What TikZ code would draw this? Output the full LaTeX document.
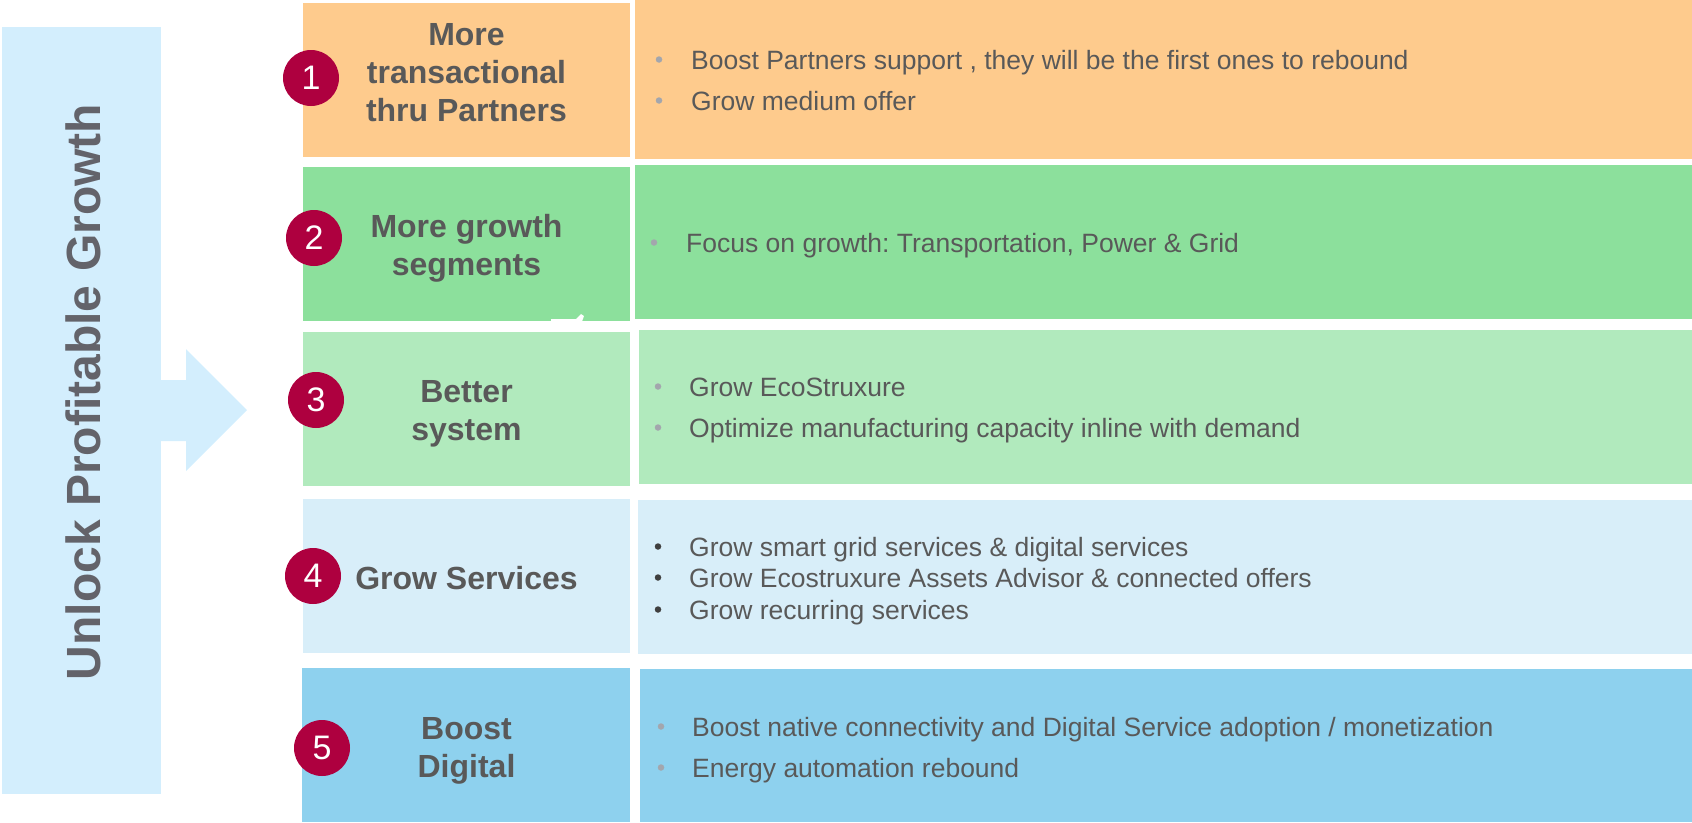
\documentclass[tikz,border=0pt]{standalone}
\usepackage{fontspec}
\setmainfont{Liberation Sans}
\frenchspacing
\definecolor{cBar}{HTML}{D3EEFD}
\definecolor{cOrange}{HTML}{FECB8D}
\definecolor{cGreen}{HTML}{8CE09C}
\definecolor{cLightGreen}{HTML}{B1EABD}
\definecolor{cPaleBlue}{HTML}{D8EEF9}
\definecolor{cBlue}{HTML}{8ED1EE}
\definecolor{cBadge}{HTML}{AE003F}
\definecolor{cText}{HTML}{595959}
\definecolor{cTitle}{HTML}{63636A}
\definecolor{cDot}{HTML}{A3A6AD}
\definecolor{cDotDark}{HTML}{3F3F3F}
\begin{document}
\begin{tikzpicture}[x=1pt,y=-1pt,
  panel/.style={rectangle,inner sep=0pt,outer sep=0pt,draw=none,anchor=north west},
  heading/.style={align=center,inner sep=0pt,text=cText,
    font=\fontsize{32}{38}\selectfont\bfseries},
  badge/.style={circle,fill=cBadge,minimum size=56pt,inner sep=0pt,text=white,
    font=\fontsize{34}{34}\selectfont},
  item/.style={anchor=base west,inner sep=0pt,text=cText,
    font=\fontsize{26.5}{30}\selectfont},
  dot/.style={circle,fill=cDot,minimum size=6.5pt,inner sep=0pt},
  darkdot/.style={dot,fill=cDotDark}]
\useasboundingbox (0,0) rectangle (1692,822);

% side banner and its arrow
\node[panel,fill=cBar,minimum width=159pt,minimum height=767pt] (bar) at (2,27) {};
\fill[cBar] (161,380) -- (186,380) -- (186,349) -- (247,410) -- (186,471)
  -- (186,441) -- (161,441) -- cycle;
\node[rotate=90,inner sep=0pt,text=cTitle,font=\fontsize{48}{50}\selectfont\bfseries]
  (banner) at (83,392) {Unlock Profitable Growth};

% left column: headings
\node[panel,fill=cOrange,minimum width=327pt,minimum height=154pt] (L1) at (303,3) {};
\node[panel,fill=cGreen,minimum width=327pt,minimum height=154pt] (L2) at (303,167) {};
\node[panel,fill=cLightGreen,minimum width=327pt,minimum height=154pt] (L3) at (303,332) {};
\node[panel,fill=cPaleBlue,minimum width=327pt,minimum height=154pt] (L4) at (303,499) {};
\node[panel,fill=cBlue,minimum width=328pt,minimum height=154pt] (L5) at (302,668) {};

% right column: actions
\node[panel,fill=cOrange,minimum width=1057pt,minimum height=159pt] (R1) at (635,0) {};
\node[panel,fill=cGreen,minimum width=1057pt,minimum height=154pt] (R2) at (635,165) {};
\node[panel,fill=cLightGreen,minimum width=1053pt,minimum height=154pt] (R3) at (639,330) {};
\node[panel,fill=cPaleBlue,minimum width=1054pt,minimum height=154pt] (R4) at (638,500) {};
\node[panel,fill=cBlue,minimum width=1052pt,minimum height=153pt] (R5) at (640,669) {};

% small white mark on the lower edge of the second heading
\fill[white] (551,319) -- (576,319) -- (581,314) -- (584,316) -- (582,321.5) -- (551,321.5) -- cycle;

% heading texts
\node[heading] (h1) at (466.5,72.5) {More\\transactional\\thru Partners};
\node[heading] (h2) at (466.5,248.5) {More growth\\segments};
\node[heading] (h3) at (466.5,414) {Better\\system};
\node[heading,anchor=base] (h4) at (466.5,589) {Grow Services};
\node[heading] (h5) at (466.5,751) {Boost\\Digital};

% numbered badges
\node[badge] (n1) at (311,78) {1};
\node[badge] (n2) at (314,238) {2};
\node[badge] (n3) at (316,400) {3};
\node[badge] (n4) at (313,576) {4};
\node[badge] (n5) at (322,748) {5};

% bullet lists
\node[dot] (d11) at (659,59.5) {};
\node[item] (t11) at (691,69) {Boost Partners support , they will be the first ones to rebound};
\node[dot] (d12) at (659,100.5) {};
\node[item] (t12) at (691,110) {Grow medium offer};

\node[dot] (d21) at (654,242.5) {};
\node[item] (t21) at (686,252) {Focus on growth: Transportation, Power \& Grid};

\node[dot] (d31) at (658,386.5) {};
\node[item] (t31) at (689,396) {Grow EcoStruxure};
\node[dot] (d32) at (658,427.5) {};
\node[item] (t32) at (689,437) {Optimize manufacturing capacity inline with demand};

\node[darkdot] (d41) at (658,546.5) {};
\node[item] (t41) at (689,556) {Grow smart grid services \& digital services};
\node[darkdot] (d42) at (658,577.5) {};
\node[item] (t42) at (689,587) {Grow Ecostruxure Assets Advisor \& connected offers};
\node[darkdot] (d43) at (658,609.5) {};
\node[item] (t43) at (689,619) {Grow recurring services};

\node[dot] (d51) at (661,726.5) {};
\node[item] (t51) at (692,736) {Boost native connectivity and Digital Service adoption / monetization};
\node[dot] (d52) at (661,767.5) {};
\node[item] (t52) at (692,777) {Energy automation rebound};
\end{tikzpicture}
\end{document}
